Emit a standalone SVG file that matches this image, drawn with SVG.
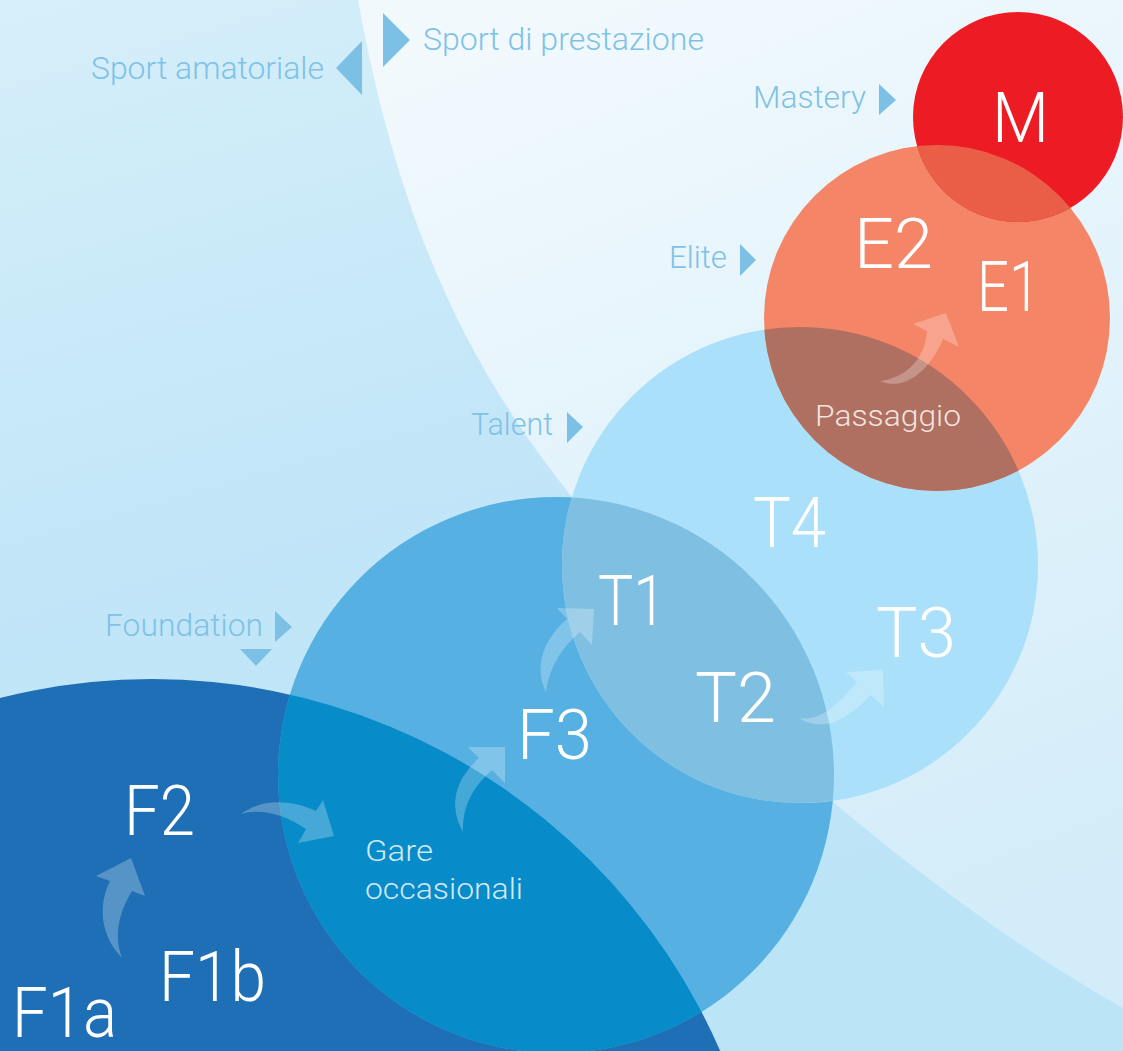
<svg xmlns="http://www.w3.org/2000/svg" width="1123" height="1051" viewBox="0 0 1123 1051">
<defs>
<linearGradient id="bgL" x1="0" y1="0" x2="0.3" y2="1">
<stop offset="0" stop-color="#d6effa"/>
<stop offset="0.5" stop-color="#c2e6f8"/>
<stop offset="1" stop-color="#bce4f7"/>
</linearGradient>
<linearGradient id="bgR" x1="0.3" y1="0" x2="0.6" y2="1">
<stop offset="0" stop-color="#f1f9fd"/>
<stop offset="1" stop-color="#d2ecf9"/>
</linearGradient>
<clipPath id="cF"><circle cx="152" cy="1299" r="620"/></clipPath>
<clipPath id="cG"><circle cx="556" cy="775" r="278"/></clipPath>
<clipPath id="cT"><circle cx="800" cy="565" r="238"/></clipPath>
<clipPath id="cE"><circle cx="937" cy="318" r="173"/></clipPath>
<style>
.lbl{font-family:Roboto,Inter,"Open Sans","Liberation Sans",sans-serif;font-weight:300;font-size:32px;fill:#7fc2e6}
.tri{fill:#7cc0e5}
.big{font-family:Roboto,Inter,"Open Sans","Liberation Sans",sans-serif;font-weight:300;font-size:70px;fill:#ffffff}
.sub{font-family:Roboto,Inter,"Open Sans","Liberation Sans",sans-serif;font-weight:300;font-size:29px;fill:#ffffff;fill-opacity:0.83}
.arr{fill:#ffffff;fill-opacity:0.25}
</style>
</defs>
<g id="background">
<rect x="0" y="0" width="1123" height="1051" fill="url(#bgL)"/>
<path d="M358,0 C400,230 470,370 572,497 C660,610 740,720 833,802 C920,875 1020,950 1123,1008 L1123,0 Z" fill="url(#bgR)"/>
</g>
<g id="circles">
<circle id="circle-foundation" cx="152" cy="1299" r="620" fill="#1e6fb5"/>
<circle id="circle-gare" cx="556" cy="775" r="278" fill="#57b0e2"/>
<circle cx="556" cy="775" r="278" fill="#078bc9" clip-path="url(#cF)"/>
<circle id="circle-talent" cx="800" cy="565" r="238" fill="#aae0fa"/>
<circle cx="800" cy="565" r="238" fill="#7fbfe2" clip-path="url(#cG)"/>
<circle id="circle-elite" cx="937" cy="318" r="173" fill="#f48567"/>
<circle cx="937" cy="318" r="173" fill="#b07061" clip-path="url(#cT)"/>
<circle id="circle-mastery" cx="1018" cy="117" r="105" fill="#ed1c24"/>
<circle cx="1018" cy="117" r="105" fill="#ea5e47" clip-path="url(#cE)"/>
</g>
<g id="legend">
<g id="sport-amatoriale"><text class="lbl" x="91" y="79" textLength="233" lengthAdjust="spacingAndGlyphs">Sport amatoriale</text><polygon class="tri" points="336,68 362,41 362,95"/></g>
<g id="sport-prestazione"><polygon class="tri" points="383,13 383,67 410,40"/><text class="lbl" x="423" y="50" textLength="281" lengthAdjust="spacingAndGlyphs">Sport di prestazione</text></g>
<g id="lbl-mastery"><text class="lbl" x="753" y="108" textLength="113" lengthAdjust="spacingAndGlyphs">Mastery</text><polygon class="tri" points="879,84 879,115 896,100"/></g>
<g id="lbl-elite"><text class="lbl" x="669" y="268" textLength="58" lengthAdjust="spacingAndGlyphs">Elite</text><polygon class="tri" points="740,244 740,276 756,260"/></g>
<g id="lbl-talent"><text class="lbl" x="471" y="435" textLength="82" lengthAdjust="spacingAndGlyphs">Talent</text><polygon class="tri" points="567,412 567,443 583,427"/></g>
<g id="lbl-foundation"><text class="lbl" x="105" y="636" textLength="158" lengthAdjust="spacingAndGlyphs">Foundation</text><polygon class="tri" points="275,611 275,642 292,627"/><polygon class="tri" points="240,649 272,649 256,666"/></g>
</g>
<g id="connectors">
<path class="arr" d="M122,958 C100,935 98,905 110,881 L96,876 L131,858 L145,896 L132,891 C118,915 114,935 122,958 Z"/>
<path class="arr" d="M241,814 C262,798 292,800 316,811 L323,800 L334,836 L298,843 L306,829 C285,815 262,808 241,814 Z"/>
<path class="arr" d="M463,832 C448,805 455,780 479,758 L468,747 L505,747 L505,783 L492,770 C475,785 462,805 463,832 Z"/>
<path class="arr" d="M546,692 C533,665 545,638 567,619 L557,608 L594,609 L592,645 L580,632 C562,648 550,665 546,692 Z"/>
<path class="arr" d="M799,718 C822,722 840,702 857,682 L846,672 L883,670 L884,707 L871,695 C848,718 825,734 799,718 Z"/>
<path class="arr" d="M880,381 C905,378 925,360 927,331 L913,324 L946,313 L959,347 L943,339 C930,370 905,392 880,381 Z"/>
</g>
<g id="nodes">
<g id="node-M"><text class="big" x="992" y="142" textLength="57" lengthAdjust="spacingAndGlyphs">M</text></g>
<g id="node-E2"><text class="big" x="854" y="268" textLength="79" lengthAdjust="spacingAndGlyphs">E2</text></g>
<g id="node-E1"><text class="big" x="977" y="311" textLength="63" lengthAdjust="spacingAndGlyphs">E1</text></g>
<g id="node-passaggio"><text class="sub" x="815" y="426" textLength="146" lengthAdjust="spacingAndGlyphs">Passaggio</text></g>
<g id="node-T4"><text class="big" x="753" y="547" textLength="73" lengthAdjust="spacingAndGlyphs">T4</text></g>
<g id="node-T1"><text class="big" x="598" y="625" textLength="68" lengthAdjust="spacingAndGlyphs">T1</text></g>
<g id="node-T2"><text class="big" x="695" y="722" textLength="81" lengthAdjust="spacingAndGlyphs">T2</text></g>
<g id="node-T3"><text class="big" x="876" y="657" textLength="80" lengthAdjust="spacingAndGlyphs">T3</text></g>
<g id="node-F3"><text class="big" x="517" y="759" textLength="75" lengthAdjust="spacingAndGlyphs">F3</text></g>
<g id="node-gare"><text class="sub" x="365" y="861" textLength="68" lengthAdjust="spacingAndGlyphs">Gare</text><text class="sub" x="365" y="899" textLength="158" lengthAdjust="spacingAndGlyphs">occasionali</text></g>
<g id="node-F2"><text class="big" x="124" y="835" textLength="71" lengthAdjust="spacingAndGlyphs">F2</text></g>
<g id="node-F1b"><text class="big" x="159" y="1001" textLength="107" lengthAdjust="spacingAndGlyphs">F1b</text></g>
<g id="node-F1a"><text class="big" x="12" y="1037" textLength="105" lengthAdjust="spacingAndGlyphs">F1a</text></g>
</g>
</svg>
